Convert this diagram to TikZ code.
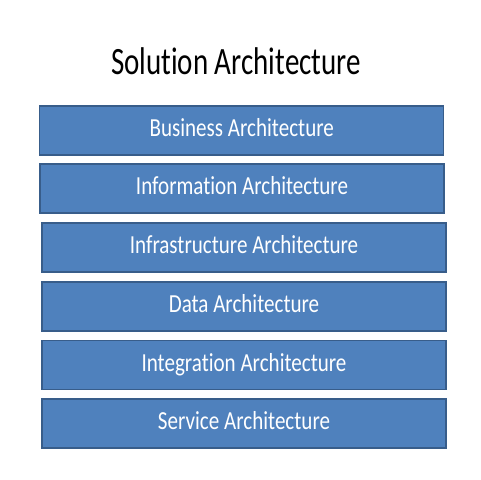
\documentclass[tikz,border=0pt]{standalone}
\usepackage{fontspec}
\setmainfont[Ligatures={NoRequired,NoCommon,NoContextual},Contextuals=NoAlternate]{Carlito}
\definecolor{boxblue}{HTML}{4F81BD}
\definecolor{boxedge}{HTML}{385D8A}
\newcommand\tnolig{t\kern0pt }
\tikzset{
  archbox/.style={draw=boxedge, fill=boxblue, line width=1.1pt,
    minimum width=303pt, minimum height=36.5pt, inner sep=0pt,
    text height=12.6pt, text depth=3pt,
    text=white, font=\fontsize{19.5}{22}\selectfont},
  archtitle/.style={anchor=base, inner sep=0pt, font=\fontsize{29}{33}\selectfont}
}
\begin{document}
\begin{tikzpicture}[x=0.75pt,y=-0.75pt]
            \useasboundingbox (0,0) rectangle (480,480);
            \node[archtitle] (title) at (236,74.3) {\scalebox{0.75}[1]{Solu\tnolig ion Architecture}};
            \foreach \name/\xc/\yc/\txt in {busi/241.75/130.5/Business Architecture,
                    info/242/188.5/Informa\tnolig ion Architecture,
                    infra/244/247.5/Infrastructure Architecture,
                    data/244/306.5/Data Architecture,
                    integ/244/365/Integra\tnolig ion Architecture,
                    serv/244/423.5/Service Architecture}
                \node[archbox] (\name) at (\xc,\yc) {\scalebox{0.81}[1]{\txt}};
        \end{tikzpicture}
\end{document}
